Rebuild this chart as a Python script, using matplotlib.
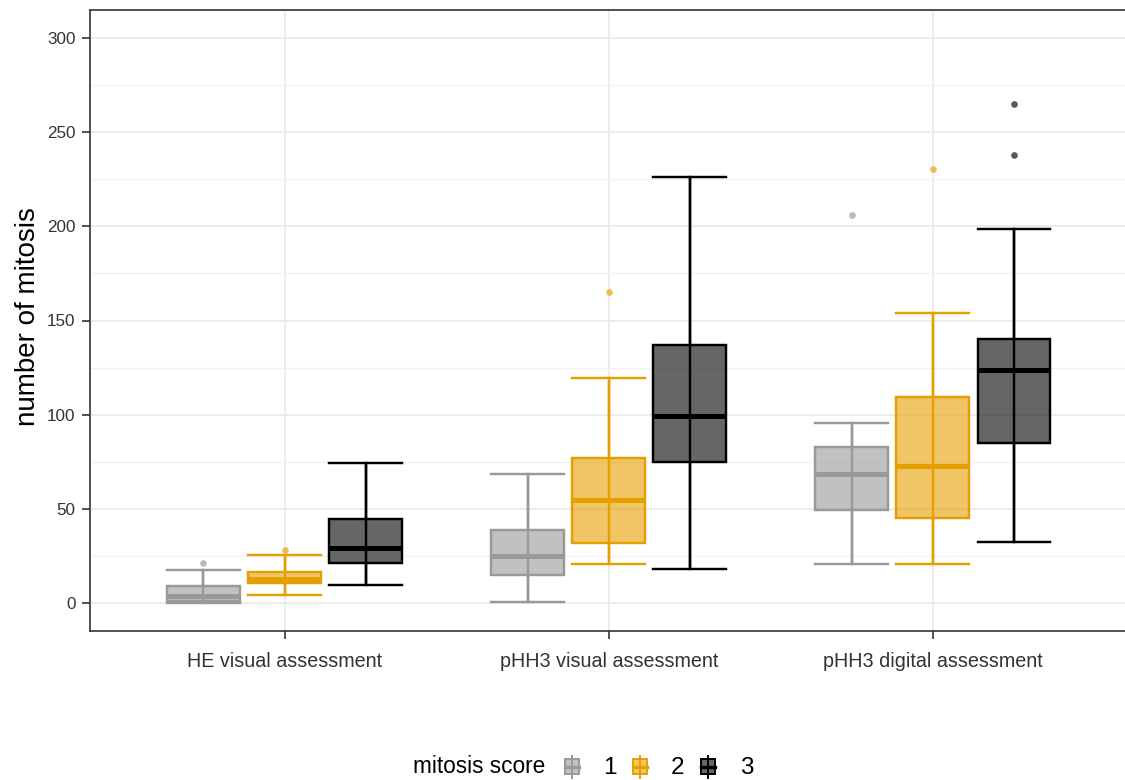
import matplotlib
matplotlib.use("Agg")
import matplotlib.pyplot as plt
from matplotlib.colors import to_rgba
from matplotlib.patches import Rectangle
from matplotlib.lines import Line2D
import numpy as np

plt.rcParams['font.family'] = ['Liberation Sans', 'DejaVu Sans']

# ---------------- data ----------------
categories = ["HE visual assessment", "pHH3 visual assessment", "pHH3 digital assessment"]
scores = ["1", "2", "3"]
colors = ["#999999", "#E69F00", "#000000"]

# score 1
whislo_1 = [0.0, 0.5, 20.7]
q1_1 = [1.2, 14.5, 49.2]
med_1 = [3.8, 24.6, 68.2]
q3_1 = [8.8, 38.6, 82.7]
whishi_1 = [17.5, 68.6, 95.3]
fliers_1 = [[21.1], [], [206.0]]

# score 2
whislo_2 = [4.2, 20.7, 20.7]
q1_2 = [10.4, 31.9, 44.8]
med_2 = [12.8, 54.6, 72.6]
q3_2 = [16.2, 77.0, 109.3]
whishi_2 = [25.3, 119.5, 154.0]
fliers_2 = [[28.2], [165.2], [230.3]]

# score 3
whislo_3 = [9.4, 18.2, 32.4]
q1_3 = [20.9, 74.7, 85.1]
med_3 = [29.2, 99.3, 123.6]
q3_3 = [44.3, 137.2, 140.3]
whishi_3 = [74.2, 226.1, 198.8]
fliers_3 = [[], [], [237.8, 265.2]]

series = [
    (whislo_1, q1_1, med_1, q3_1, whishi_1, fliers_1),
    (whislo_2, q1_2, med_2, q3_2, whishi_2, fliers_2),
    (whislo_3, q1_3, med_3, q3_3, whishi_3, fliers_3),
]

yticks = [0, 50, 100, 150, 200, 250, 300]
yminor = [25, 75, 125, 175, 225, 275]

# ---------------- figure ----------------
W, H = 1125, 780
fig = plt.figure(figsize=(W / 100, H / 100), dpi=100)
L, R, T, B = 90, 1127.5, 10, 631
ax = fig.add_axes([L / W, 1 - B / H, (R - L) / W, (B - T) / H])

ax.set_xlim(0.4, 3.6)
ax.set_ylim(-15, 315)

# grid
ax.set_yticks(yticks)
ax.set_yticks(yminor, minor=True)
ax.set_xticks([1, 2, 3])
ax.set_xticklabels(categories)
ax.grid(True, which='major', color='#EBEBEB', linewidth=1.3, zorder=0)
ax.grid(True, which='minor', axis='y', color='#F2F2F2', linewidth=1.0, zorder=0)
ax.set_axisbelow(True)
ax.tick_params(axis='y', which='minor', length=0)

for s in ax.spines.values():
    s.set_color('#333333')
    s.set_linewidth(1.2)

ax.tick_params(axis='both', which='major', color='#333333', length=5.8, width=1.2,
               labelcolor='#333333')
ax.tick_params(axis='y', labelsize=12.3, pad=4.5)
ax.tick_params(axis='x', labelsize=14.2, pad=9)

offsets = [-0.25, 0.0, 0.25]
bw = 0.225
base = np.arange(1, len(categories) + 1)
lw = 1.75

for i, (wl, q1, md, q3, wh, fl) in enumerate(series):
    c = colors[i]
    pos = base + offsets[i]
    stats = []
    for j in range(len(categories)):
        stats.append(dict(whislo=wl[j], q1=q1[j], med=md[j], q3=q3[j],
                          whishi=wh[j], fliers=fl[j], label=categories[j]))
    # whisker line running through the box (errorbar style)
    ax.vlines(pos, wl, wh, color=c, linewidth=lw, zorder=2)
    ax.bxp(stats, positions=pos, widths=bw, capwidths=bw, patch_artist=True,
           manage_ticks=False,
           boxprops=dict(facecolor=to_rgba(c, 0.6), edgecolor=c, linewidth=lw, zorder=3),
           medianprops=dict(color=c, linewidth=3.6, solid_capstyle='butt', zorder=4),
           whiskerprops=dict(color=c, linewidth=lw, zorder=2),
           capprops=dict(color=c, linewidth=lw, zorder=2),
           flierprops=dict(marker='o', markersize=4.8, markerfacecolor=to_rgba(c, 0.65),
                           markeredgecolor='none', linestyle='none', zorder=4))

ax.set_xticks([1, 2, 3])
ax.set_xticklabels(categories)

# y axis title
fig.text(28 / W, 1 - 317 / H, "number of mitosis", rotation=90, ha='center', va='center',
         fontsize=20, color='black')

# ---------------- legend (manual, ggplot style at bottom) ----------------
lax = fig.add_axes([0, 0, 1, 1], zorder=5)
lax.set_xlim(0, W)
lax.set_ylim(H, 0)
lax.axis('off')
lax.patch.set_alpha(0)

ly = 766.5
lax.text(413, ly, "mitosis score", ha='left', va='center', fontsize=16.3, color='black')
key_x = [565, 633, 701]
lab_x = [603, 671, 740]
kw, kh, wk = 14, 15, 3.5
for i in range(len(scores)):
    c = colors[i]
    x0 = key_x[i]
    xc = x0 + kw / 2
    lax.add_line(Line2D([xc, xc], [ly - kh / 2 - wk, ly + kh / 2 + wk], color=c, lw=1.4))
    lax.add_patch(Rectangle((x0, ly - kh / 2), kw, kh, facecolor=to_rgba(c, 0.6),
                            edgecolor=c, lw=1.4))
    lax.add_line(Line2D([x0, x0 + kw], [ly, ly], color=c, lw=2.4))
    lax.text(lab_x[i], ly + 1, scores[i], ha='left', va='center', fontsize=17.5, color='black')

fig.savefig("out.png", dpi=100)
